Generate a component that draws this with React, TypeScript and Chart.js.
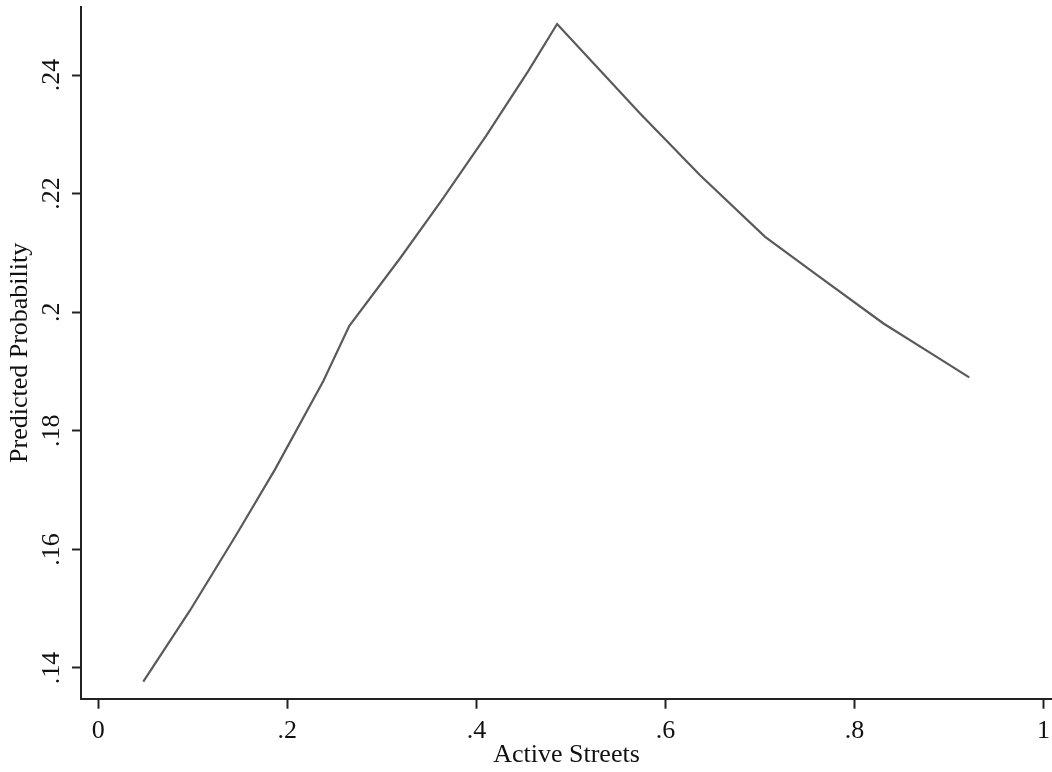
import React, { useEffect, useRef } from "react";
import { Chart, registerables } from "chart.js";

Chart.register(...registerables);

const activeStreets = [0.0476, 0.097, 0.1465, 0.187, 0.2381, 0.2656, 0.3193, 0.3634, 0.4101, 0.455, 0.4854, 0.5732, 0.6367, 0.7055, 0.7602, 0.8307, 0.8836, 0.9214];
const predictedProbability = [0.1377, 0.1497, 0.1626, 0.1735, 0.1884, 0.1977, 0.2091, 0.2189, 0.2297, 0.2407, 0.2486, 0.2335, 0.2231, 0.2127, 0.2063, 0.1981, 0.1928, 0.189];

const xTickValues = [0, 0.2, 0.4, 0.6, 0.8, 1];
const xTickLabels = ["0", ".2", ".4", ".6", ".8", "1"];
const yTickValues = [0.14, 0.16, 0.18, 0.2, 0.22, 0.24];
const yTickLabels = [".14", ".16", ".18", ".2", ".22", ".24"];

const FONT = "'Liberation Serif', 'Times New Roman', serif";
const AXIS = "#222222";

export default function App() {
  const ref = useRef<HTMLCanvasElement | null>(null);

  useEffect(() => {
    if (!ref.current) return;
    const chart = new Chart(ref.current, {
      type: "line",
      data: {
        datasets: [
          {
            data: activeStreets.map((x, i) => ({ x, y: predictedProbability[i] })),
            borderColor: "#5a5a5a",
            borderWidth: 2.2,
            pointRadius: 0,
            tension: 0,
            fill: false,
          },
        ],
      },
      options: {
        animation: false,
        responsive: false,
        devicePixelRatio: 1,
        layout: { padding: { top: 7, left: 0, right: 0, bottom: 0 } },
        plugins: { legend: { display: false }, tooltip: { enabled: false } },
        scales: {
          x: {
            type: "linear",
            min: -0.0183,
            max: 1.009,
            afterBuildTicks: (s: any) => {
              s.ticks = xTickValues.map((v) => ({ value: v }));
            },
            afterFit: (s: any) => {
              s.height = 73.3;
              s.paddingLeft = 0;
              s.paddingRight = 0;
              s.paddingTop = 0;
              s.paddingBottom = 0;
            },
            grid: { drawOnChartArea: false, drawTicks: true, tickLength: 10, tickColor: AXIS, tickWidth: 2 },
            border: { display: true, color: AXIS, width: 2 },
            ticks: {
              color: "#111",
              font: { family: FONT, size: 26, lineHeight: 1.2 },
              padding: 7,
              maxRotation: 0,
              minRotation: 0,
              callback: (_v: any, i: number) => xTickLabels[i],
            },
            title: {
              display: true,
              text: "Active Streets",
              color: "#111",
              font: { family: FONT, size: 26, lineHeight: 1.2 },
              padding: { top: 0, bottom: 1.5 },
            },
          },
          y: {
            type: "linear",
            min: 0.13482,
            max: 0.25147,
            afterBuildTicks: (s: any) => {
              s.ticks = yTickValues.map((v) => ({ value: v }));
            },
            afterFit: (s: any) => {
              s.width = 81;
              s.paddingLeft = 0;
              s.paddingRight = 0;
              s.paddingTop = 0;
              s.paddingBottom = 0;
            },
            grid: { drawOnChartArea: false, drawTicks: true, tickLength: 9, tickColor: AXIS, tickWidth: 2 },
            border: { display: true, color: AXIS, width: 2 },
            ticks: {
              color: "#111",
              font: { family: FONT, size: 26, lineHeight: 1.2 },
              padding: 4,
              minRotation: 90,
              maxRotation: 90,
              crossAlign: "center",
              callback: (_v: any, i: number) => yTickLabels[i],
            },
            title: {
              display: true,
              text: "Predicted Probability",
              color: "#111",
              font: { family: FONT, size: 26, lineHeight: 1.2 },
              padding: { top: 4.6, bottom: 0 },
            },
          },
        },
      },
    });
    return () => chart.destroy();
  }, []);

  return (
    <div style={{ position: "absolute", left: 0, top: 0, width: 1052, height: 772, background: "#fff" }}>
      <canvas ref={ref} width={1052} height={772} style={{ display: "block" }} />
    </div>
  );
}
